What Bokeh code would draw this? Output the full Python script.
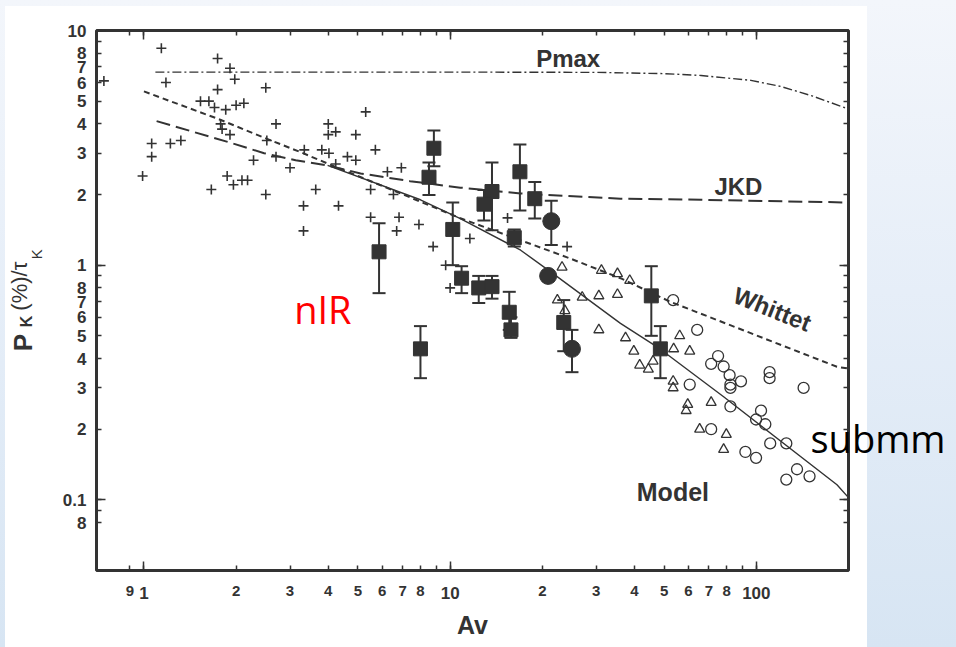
from bokeh.plotting import figure
from bokeh.models import (ColumnDataSource, FixedTicker, LogAxis, Label,
                          Whisker, TeeHead)
from bokeh.embed import file_html
from bokeh.resources import INLINE

# ---------------- data ----------------
# nIR field stars (crosses)
cross_av = [1.14, 1.74, 1.91, 1.98, 1.18, 1.74, 2.50, 1.53, 1.63, 1.70, 1.85, 2.00, 2.12,
            2.70, 1.78, 1.80, 1.91, 2.52, 1.06, 1.22, 1.32, 1.06, 2.70, 2.28, 3.00, 0.99,
            1.87, 1.96, 2.09, 2.18, 1.66, 2.50, 0.74, 5.3, 4.0, 4.0, 4.23, 4.92, 3.34,
            3.81, 4.02, 5.7, 4.62, 4.92, 4.23, 6.24, 6.93, 3.64, 5.50, 6.53, 3.32, 4.32,
            5.50, 6.81, 3.32, 6.69, 7.91, 8.8, 9.67, 10.0, 15.4, 11.6, 24.1]
cross_p = [8.4, 7.6, 6.9, 6.2, 6.0, 5.6, 5.7, 5.0, 5.0, 4.7, 4.6, 4.8, 4.9,
           4.0, 4.0, 3.8, 3.6, 3.4, 3.3, 3.3, 3.4, 2.9, 2.9, 2.8, 2.6, 2.4,
           2.4, 2.2, 2.3, 2.3, 2.1, 2.0, 6.1, 4.5, 4.0, 3.6, 3.7, 3.6, 3.1,
           3.1, 3.0, 3.1, 2.9, 2.8, 2.7, 2.5, 2.6, 2.1, 2.1, 2.0, 1.79, 1.79,
           1.6, 1.6, 1.4, 1.4, 1.49, 1.2, 1.0, 0.80, 1.59, 1.3, 1.2]

# filled squares with error bars
sq_av = [8.85, 8.53, 5.86, 10.2, 8.0, 13.7, 12.9, 16.9, 18.9, 16.2, 10.9, 12.4, 13.7,
         15.6, 15.8, 23.5, 45.4, 48.6]
sq_p = [3.15, 2.37, 1.14, 1.42, 0.44, 2.06, 1.82, 2.5, 1.92, 1.31, 0.88, 0.80, 0.81,
        0.63, 0.53, 0.57, 0.74, 0.44]
sq_hi = [3.75, 2.74, 1.51, 1.85, 0.55, 2.74, 2.09, 3.27, 2.26, 1.42, 0.99, 0.90, 0.90,
         0.77, 0.60, 0.71, 0.99, 0.55]
sq_lo = [2.64, 1.99, 0.76, 1.0, 0.33, 1.41, 1.55, 1.71, 1.58, 1.2, 0.76, 0.69, 0.72,
         0.53, 0.49, 0.43, 0.50, 0.33]

# filled circles
dot_av = [21.4, 20.9, 25.0]
dot_p = [1.54, 0.90, 0.44]
dot_err_av = [21.4, 25.0]
dot_hi = [1.88, 0.53]
dot_lo = [1.22, 0.35]

# open triangles
tri_av = [23.2, 31.2, 35.2, 38.6, 22.4, 23.7, 27.0, 30.6, 35.2, 30.6, 37.4, 39.8, 41.6,
          44.4, 46.0, 56.2, 53.7, 60.6, 53.5, 53.5, 59.7, 59.0, 71.2, 65.3, 79.8, 78.2]
tri_p = [0.98, 0.95, 0.92, 0.86, 0.71, 0.64, 0.73, 0.74, 0.75, 0.53, 0.49, 0.43, 0.375,
         0.36, 0.39, 0.50, 0.44, 0.43, 0.32, 0.30, 0.255, 0.24, 0.26, 0.20, 0.19, 0.164]

# open circles (submm)
oc_av = [53.5, 64.1, 75.0, 71.2, 78.2, 81.8, 82.3, 82.3, 89.1, 110.5, 110.5, 142.7, 60.6,
         82.3, 103.6, 99.8, 107, 71.2, 111, 125.3, 92.1, 99.8, 135.8, 125.3, 149.2]
oc_p = [0.71, 0.53, 0.41, 0.38, 0.37, 0.34, 0.31, 0.30, 0.32, 0.35, 0.33, 0.30, 0.31,
        0.25, 0.24, 0.22, 0.21, 0.20, 0.174, 0.174, 0.16, 0.151, 0.135, 0.122, 0.126]

# curves
pmax_av = [1.09, 10, 30, 50, 66, 96, 120, 153, 199]
pmax_p = [6.65, 6.65, 6.63, 6.55, 6.43, 6.13, 5.78, 5.25, 4.64]
jkd_av = [1.1, 1.88, 2.47, 3.13, 3.98, 5.1, 7.4, 10.8, 17, 36, 66, 199]
jkd_p = [4.11, 3.35, 3.00, 2.80, 2.66, 2.46, 2.28, 2.14, 2.02, 1.92, 1.90, 1.85]
whittet_av = [1.0, 1.74, 2.46, 3.25, 3.98, 6.9, 10.8, 24.1, 36.0, 52.4, 183.4, 199]
whittet_p = [5.5, 4.21, 3.50, 3.03, 2.71, 2.02, 1.585, 1.08, 0.88, 0.698, 0.369, 0.363]
model_av = [3.98, 8.0, 10.8, 17.0, 21.8, 36.0, 47.4, 78.2, 183.4, 199]
model_p = [2.66, 1.90, 1.58, 1.158, 0.916, 0.565, 0.449, 0.275, 0.116, 0.103]

# ticks
x_ticks = [0.9, 1, 2, 3, 4, 5, 6, 7, 8, 9, 10, 20, 30, 40, 50, 60, 70, 80, 90, 100]
x_labels = ["9", "", "2", "3", "4", "5", "6", "7", "8", "", "",
            "2", "3", "4", "5", "6", "7", "8", "", ""]
x_decades = [1, 10, 100]
x_decade_labels = ["1", "10", "100"]
y_ticks = [0.08, 0.09, 0.1, 0.2, 0.3, 0.4, 0.5, 0.6, 0.7, 0.8, 0.9,
           1, 2, 3, 4, 5, 6, 7, 8, 9, 10]
y_labels = ["8", "", "0.1", "2", "3", "4", "5", "6", "7", "8", "",
            "1", "2", "3", "4", "5", "6", "7", "8", "", "10"]
y_decades = [0.1, 1, 10]

INK = "#333333"
BOLD = "Liberation Sans"

p = figure(width=956, height=647, x_axis_type="log", y_axis_type="log",
           x_range=(0.7, 200), y_range=(0.05, 10),
           output_backend="svg", toolbar_location=None,
           min_border_left=96, min_border_right=108, min_border_top=30,
           min_border_bottom=77,
           border_fill_color=None, background_fill_color="white")
# slide background: white panel on a pale blue gradient
p.styles = {"background": "linear-gradient(#ffffff, #ffffff) 5px 6px / 862px 641px no-repeat, "
                          "linear-gradient(180deg, #f3f6fb 0%, #e6eef8 45%, #d7e5f3 100%)"}
p.grid.visible = False
p.outline_line_color = INK
p.outline_line_width = 3
p.outline_line_alpha = 1.0


def style_axis(ax, ticks, minor, labels, show, size):
    ax.ticker = FixedTicker(ticks=ticks, minor_ticks=minor)
    ax.axis_line_color = None
    ax.major_tick_in = 5
    ax.major_tick_out = 0
    ax.minor_tick_in = 9
    ax.minor_tick_out = 0
    ax.major_tick_line_color = INK
    ax.minor_tick_line_color = INK
    ax.major_tick_line_width = 1.5
    ax.minor_tick_line_width = 1.5
    if show:
        ax.major_label_overrides = {t: l for t, l in zip(ticks, labels)}
        ax.major_label_text_font = BOLD
        ax.major_label_text_font_style = "bold"
        ax.major_label_text_font_size = size
        ax.major_label_text_color = INK
    else:
        ax.major_label_overrides = {t: "" for t in ticks}
        ax.major_label_text_color = None
        ax.major_label_text_font_size = "1px"
        ax.major_label_standoff = 0


def text_axis(where, pos, text, size, standoff, font=BOLD, style="bold",
              color=INK, orientation="parallel"):
    """An extra, tickless axis that only carries one piece of text."""
    ax = LogAxis()
    ax.ticker = FixedTicker(ticks=[pos], minor_ticks=[])
    ax.major_label_overrides = {pos: text}
    ax.axis_line_color = None
    ax.major_tick_line_color = None
    ax.minor_tick_line_color = None
    ax.major_tick_in = 0
    ax.major_tick_out = 0
    ax.minor_tick_in = 0
    ax.minor_tick_out = 0
    ax.major_label_orientation = orientation
    ax.major_label_standoff = standoff
    ax.major_label_text_font = font
    ax.major_label_text_font_style = style
    ax.major_label_text_font_size = size
    ax.major_label_text_color = color
    p.add_layout(ax, where)
    return ax


style_axis(p.xaxis[0], x_ticks, x_decades, x_labels, True, "15px")
style_axis(p.yaxis[0], y_ticks, y_decades, y_labels, True, "17px")
p.xaxis[0].major_label_standoff = 15
p.yaxis[0].major_label_standoff = 10

top_ax = LogAxis()
right_ax = LogAxis()
style_axis(top_ax, x_ticks, x_decades, x_labels, False, "1px")
style_axis(right_ax, y_ticks, y_decades, y_labels, False, "1px")
p.add_layout(top_ax, "above")
p.add_layout(right_ax, "right")

# larger decade labels on the x axis, plus the axis title
dec_ax = LogAxis()
dec_ax.ticker = FixedTicker(ticks=x_decades, minor_ticks=[])
dec_ax.major_label_overrides = {t: l for t, l in zip(x_decades, x_decade_labels)}
dec_ax.axis_line_color = None
dec_ax.major_tick_line_color = None
dec_ax.minor_tick_line_color = None
dec_ax.major_tick_in = 0
dec_ax.major_tick_out = 0
dec_ax.major_label_standoff = -12
dec_ax.major_label_text_font = BOLD
dec_ax.major_label_text_font_style = "bold"
dec_ax.major_label_text_font_size = "17px"
dec_ax.major_label_text_color = INK
dec_ax.axis_label = "Av"
dec_ax.axis_label_text_font = BOLD
dec_ax.axis_label_text_font_style = "bold"
dec_ax.axis_label_text_font_size = "25px"
dec_ax.axis_label_text_color = INK
dec_ax.axis_label_standoff = 9
p.add_layout(dec_ax, "below")

# y axis title  P_K(%)/tau_K built from pieces
text_axis("left", 1.114, "K", "15px", 14, style="normal")
text_axis("left", 0.575, "K", "16px", -10)
text_axis("left", 0.814, "(%)/\u03c4", "22px", -17, style="normal")
text_axis("left", 0.468, "P", "26px", -34)

# "submm" overlay text at the right edge
text_axis("right", 0.183, "submm", "38px", -38, font="Open Sans", style="normal",
          color="#000000", orientation="horizontal")

# curves
p.line(pmax_av, pmax_p, line_color=INK, line_width=1.4, line_dash="9 3 2 3")
p.line(jkd_av, jkd_p, line_color=INK, line_width=2, line_dash="14 6")
p.line(whittet_av, whittet_p, line_color=INK, line_width=2, line_dash="6 4")
p.line(model_av, model_p, line_color=INK, line_width=1.4)

# error bars
sq_src = ColumnDataSource(dict(x=sq_av, y=sq_p, hi=sq_hi, lo=sq_lo))
p.add_layout(Whisker(source=sq_src, base="x", upper="hi", lower="lo", dimension="height",
                     line_color=INK, line_width=2,
                     upper_head=TeeHead(size=13, line_color=INK, line_width=2),
                     lower_head=TeeHead(size=13, line_color=INK, line_width=2)))
dot_src = ColumnDataSource(dict(x=dot_err_av, hi=dot_hi, lo=dot_lo))
p.add_layout(Whisker(source=dot_src, base="x", upper="hi", lower="lo", dimension="height",
                     line_color=INK, line_width=2,
                     upper_head=TeeHead(size=13, line_color=INK, line_width=2),
                     lower_head=TeeHead(size=13, line_color=INK, line_width=2)))

# markers
p.scatter(cross_av, cross_p, marker="cross", size=10, line_color=INK, line_width=1.6)
p.scatter(tri_av, tri_p, marker="triangle", size=10, line_color=INK, line_width=1.3,
          fill_alpha=0)
p.scatter(oc_av, oc_p, marker="circle", size=11, line_color=INK, line_width=1.3,
          fill_alpha=0)
p.scatter("x", "y", source=sq_src, marker="square", size=14, fill_color=INK,
          line_color=INK)
p.scatter(dot_av, dot_p, marker="circle", size=17, fill_color=INK, line_color=INK)


# curve labels inside the frame
def txt(x, y, t, size, color=INK, font=BOLD, style="bold", angle=0.0):
    p.add_layout(Label(x=x, y=y, text=t, text_font=font, text_font_style=style,
                       text_font_size=size, text_color=color, angle=angle,
                       text_align="center", text_baseline="middle"))


txt(24.3, 7.57, "Pmax", "24px")
txt(87.4, 2.154, "JKD", "24px")
txt(53.4, 0.108, "Model", "25px")
txt(112.8, 0.65, "Whittet", "24px", angle=-0.38)
txt(3.84, 0.648, "nIR", "38px", color="#ff0000", font="Open Sans", style="normal")

open("out.html", "w").write(file_html(p, INLINE))
